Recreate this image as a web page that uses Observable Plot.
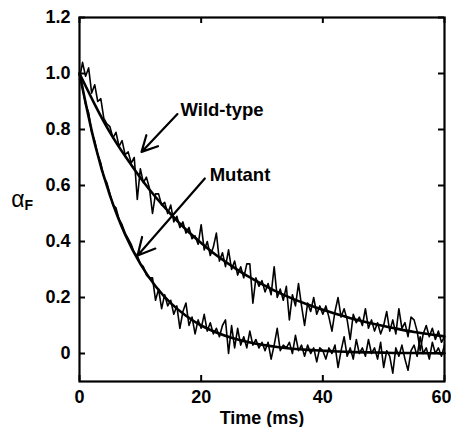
<!DOCTYPE html>
<html><head><meta charset="utf-8">
<script src="https://cdn.jsdelivr.net/npm/d3@7"></script>
<script src="https://cdn.jsdelivr.net/npm/@observablehq/plot@0.6"></script>
<style>body{margin:0;background:#fff} svg{display:block}</style>
</head><body><div id="chart"></div>
<script>
// Sampling interval of the raw traces (ms)
const sampleStep = 0.5;

// Raw (noisy) traces at 0.5 ms steps, 0–60 ms
const wildTypeTrace = [
  0.98,1.04,0.99,1.02,0.93,0.96,0.90,0.91,0.84,0.82,0.81,0.77,0.79,0.74,0.76,0.71,0.72,0.68,0.70,0.55,
  0.66,0.61,0.63,0.59,0.50,0.57,0.57,0.53,0.54,0.50,0.53,0.47,0.49,0.45,0.47,0.43,0.45,0.41,0.42,0.39,
  0.46,0.37,0.40,0.35,0.38,0.43,0.33,0.36,0.31,0.37,0.30,0.33,0.28,0.31,0.27,0.32,0.32,0.18,0.27,0.24,
  0.26,0.22,0.25,0.21,0.31,0.20,0.23,0.19,0.24,0.12,0.21,0.17,0.25,0.17,0.10,0.18,0.15,0.20,0.14,0.17,
  0.14,0.17,0.13,0.08,0.15,0.20,0.13,0.16,0.12,0.05,0.14,0.11,0.13,0.10,0.16,0.09,0.12,0.08,0.11,0.07,
  0.10,0.15,0.08,0.12,0.07,0.16,0.09,0.11,0.06,0.13,0.12,0.08,0.01,0.07,0.10,0.06,0.09,0.05,0.08,0.04,
  0.06
];
const mutantTrace = [
  1.00,0.95,0.89,0.86,0.79,0.76,0.71,0.68,0.63,0.61,0.57,0.53,0.52,0.48,0.46,0.43,0.41,0.39,0.36,0.35,
  0.32,0.31,0.28,0.27,0.27,0.19,0.23,0.16,0.21,0.17,0.19,0.14,0.17,0.09,0.15,0.18,0.10,0.13,0.07,0.12,
  0.09,0.14,0.08,0.11,0.07,0.09,0.06,0.10,0.12,0.00,0.10,0.02,0.09,0.03,0.06,0.02,0.08,0.03,0.05,0.02,
  0.04,0.01,0.04,-0.02,0.03,0.09,0.01,0.03,0.02,0.04,0.00,0.065,0.01,0.03,-0.01,0.03,0.00,0.02,-0.03,0.02,
  0.01,-0.02,0.02,0.00,0.03,-0.05,0.01,0.06,-0.01,0.02,-0.02,0.05,0.00,0.02,-0.01,0.05,0.00,0.02,-0.02,0.04,
  -0.05,0.01,-0.01,-0.07,0.02,-0.01,0.03,-0.02,-0.06,0.01,0.03,-0.01,0.06,0.00,0.02,-0.02,0.04,0.00,0.02,-0.01,
  0.03
];

// Smooth fitted curves, read at 2.5 ms steps
const fitTimes = [0,2.5,5,7.5,10,12.5,15,17.5,20,22.5,25,27.5,30,32.5,35,37.5,40,42.5,45,47.5,50,52.5,55,57.5,60];
const wildTypeFit = [1.00,0.89,0.79,0.705,0.628,0.559,0.498,0.443,0.395,0.351,0.313,0.278,0.248,0.220,0.196,0.175,0.156,0.139,0.123,0.110,0.098,0.087,0.077,0.069,0.061];
const mutantFit = [1.00,0.75,0.565,0.425,0.32,0.24,0.18,0.135,0.10,0.075,0.056,0.042,0.031,0.023,0.017,0.013,0.010,0.007,0.005,0.004,0.003,0.002,0.002,0.001,0.001];

// Ticks
const xTicks = [0,20,40,60];
const yTicks = [0,0.2,0.4,0.6,0.8,1.0,1.2];

// Annotation labels and arrows (data units)
const annotationLabels = ["Wild-type","Mutant"];
const annotationTextX = [16.6, 21.4];
const annotationTextY = [0.87, 0.636];
const arrowFromX = [16.1, 20.6];
const arrowFromY = [0.855, 0.625];
const arrowToX = [10.2, 9.55];
const arrowToY = [0.72, 0.35];

const traces = [
  ...wildTypeTrace.map((v,i)=>({series:"Wild-type", t:i*sampleStep, v})),
  ...mutantTrace.map((v,i)=>({series:"Mutant", t:i*sampleStep, v}))
];
const fits = [
  ...fitTimes.map((t,i)=>({series:"Wild-type", t, v:wildTypeFit[i]})),
  ...fitTimes.map((t,i)=>({series:"Mutant", t, v:mutantFit[i]}))
];
const annotations = annotationLabels.map((label,i)=>({
  label, tx:annotationTextX[i], ty:annotationTextY[i],
  x1:arrowFromX[i], y1:arrowFromY[i], x2:arrowToX[i], y2:arrowToY[i]
}));

const yFmt = d => d === 0 ? "0" : d.toFixed(1);
const W = 451, H = 427, mL = 79, mR = 7, mT = 17, mB = 46;
const tickLen = 6;
const innerW = W - mL - mR, innerH = H - mT - mB;
const lastX = xTicks[xTicks.length - 1];

const chart = Plot.plot({
  width: W, height: H,
  marginLeft: mL, marginRight: mR, marginTop: mT, marginBottom: mB,
  x: {domain: [0, 60]},
  y: {domain: [-0.1, 1.2]},
  style: {fontFamily: "'Liberation Sans', Arial, Helvetica, sans-serif", fontWeight: "bold", color: "black", background: "white"},
  marks: [
    // tick labels
    Plot.axisX({ticks: xTicks.slice(0, -1), tickSize: 0, tickPadding: 9, fontSize: 18, label: null}),
    Plot.text([lastX], {x: d => d, frameAnchor: "bottom", dy: 9, dx: 7, textAnchor: "end", lineAnchor: "top", text: d => String(d), fontSize: 18}),
    Plot.axisY({ticks: yTicks, tickSize: 0, tickPadding: 9, fontSize: 18, tickFormat: yFmt, label: null}),
    // inward tick marks on all four sides
    Plot.tickX(xTicks, {x: d => d, insetTop: innerH - tickLen, stroke: "black", strokeWidth: 2}),
    Plot.tickX(xTicks, {x: d => d, insetBottom: innerH - tickLen, stroke: "black", strokeWidth: 2}),
    Plot.tickY(yTicks, {y: d => d, insetRight: innerW - tickLen, stroke: "black", strokeWidth: 2}),
    Plot.tickY(yTicks, {y: d => d, insetLeft: innerW - tickLen, stroke: "black", strokeWidth: 2}),
    Plot.line(traces, {x: "t", y: "v", z: "series", stroke: "black", strokeWidth: 1.6, strokeLinejoin: "round"}),
    Plot.line(fits, {x: "t", y: "v", z: "series", stroke: "black", strokeWidth: 2.6, curve: "natural"}),
    Plot.frame({stroke: "black", strokeWidth: 2.2}),
    Plot.arrow(annotations, {x1: "x1", y1: "y1", x2: "x2", y2: "y2", stroke: "black", strokeWidth: 2.2, headLength: 13, headAngle: 55}),
    Plot.text(annotations, {x: "tx", y: "ty", text: "label", textAnchor: "start", fontSize: 18.5, fontWeight: "bold"}),
    Plot.text([0], {frameAnchor: "bottom", dy: 37, text: () => "Time (ms)", fontSize: 18, fontWeight: "bold", lineAnchor: "middle"}),
    Plot.text([0], {frameAnchor: "left", dx: -55, textAnchor: "end", text: () => "α", fontSize: 23, fontWeight: "normal", lineAnchor: "middle"}),
    Plot.text([0], {frameAnchor: "left", dx: -55, dy: 6, textAnchor: "start", text: () => "F", fontSize: 14, fontWeight: "bold", lineAnchor: "middle"})
  ]
});
document.getElementById("chart").append(chart);
</script>
</body></html>
